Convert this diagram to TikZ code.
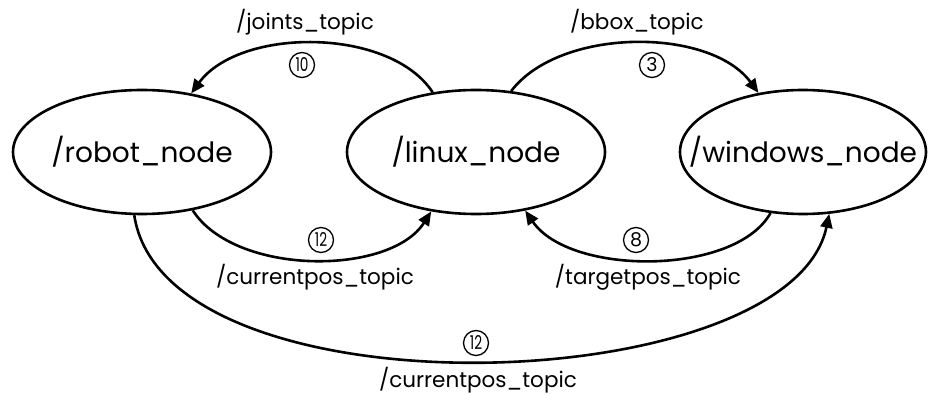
\documentclass[tikz,border=0pt]{standalone}
\usepackage{fontspec}
\setmainfont{Poppins}
\usetikzlibrary{shapes.geometric,arrows.meta}
\begin{document}
\begin{tikzpicture}[x=1pt,y=1pt,
  rosnode/.style={draw,ellipse,line width=2.6pt,inner ysep=0pt,inner xsep=-30pt,minimum height=124pt,font=\fontsize{28}{30}\selectfont},
  edge/.style={line width=2.6pt,-{Triangle[length=14pt,width=12pt]}},
  topic/.style={font=\fontsize{21.5}{24}\selectfont,inner sep=0pt},
  num/.style={draw,circle,line width=1.3pt,minimum size=25pt,inner sep=0pt,font=\fontsize{19}{20}\selectfont}]
\useasboundingbox (0,0) rectangle (928,394);
\node[rosnode,minimum width=258pt] (robot) at (142,242) {/robot\_node};
\node[rosnode,minimum width=258pt] (linux) at (476,242) {/linux\_node};
\node[rosnode,minimum width=246pt] (windows) at (803,242) {/windows\_node};
% edges
\draw[edge] (linux.126) .. controls (390,367) and (240,367) .. (robot.50);
\draw[edge] (linux.60) .. controls (560,367) and (710,367) .. (windows.127);
\draw[edge] (robot.-49) .. controls (235,118) and (390,118) .. (linux.-127);
\draw[edge] (windows.-118) .. controls (735,118) and (570,118) .. (linux.-50);
\draw[edge] (robot.-97) .. controls (165,-26) and (790,-6) .. (windows.-67);
% labels
\node[topic] (t1) at (305,372) {/joints\_topic};
\node[num] (n1) at (302,329) {\scalebox{0.72}[1]{10}};
\node[topic] (t2) at (637,372) {/bbox\_topic};
\node[num] (n2) at (652,329) {3};
\node[num] (n3) at (321,154) {\scalebox{0.72}[1]{12}};
\node[topic] (t3) at (315,117) {/currentpos\_topic};
\node[num] (n4) at (636,154) {8};
\node[topic] (t4) at (648,117) {/targetpos\_topic};
\node[num] (n5) at (476,51) {\scalebox{0.72}[1]{12}};
\node[topic] (t5) at (478,14) {/currentpos\_topic};
\end{tikzpicture}
\end{document}
